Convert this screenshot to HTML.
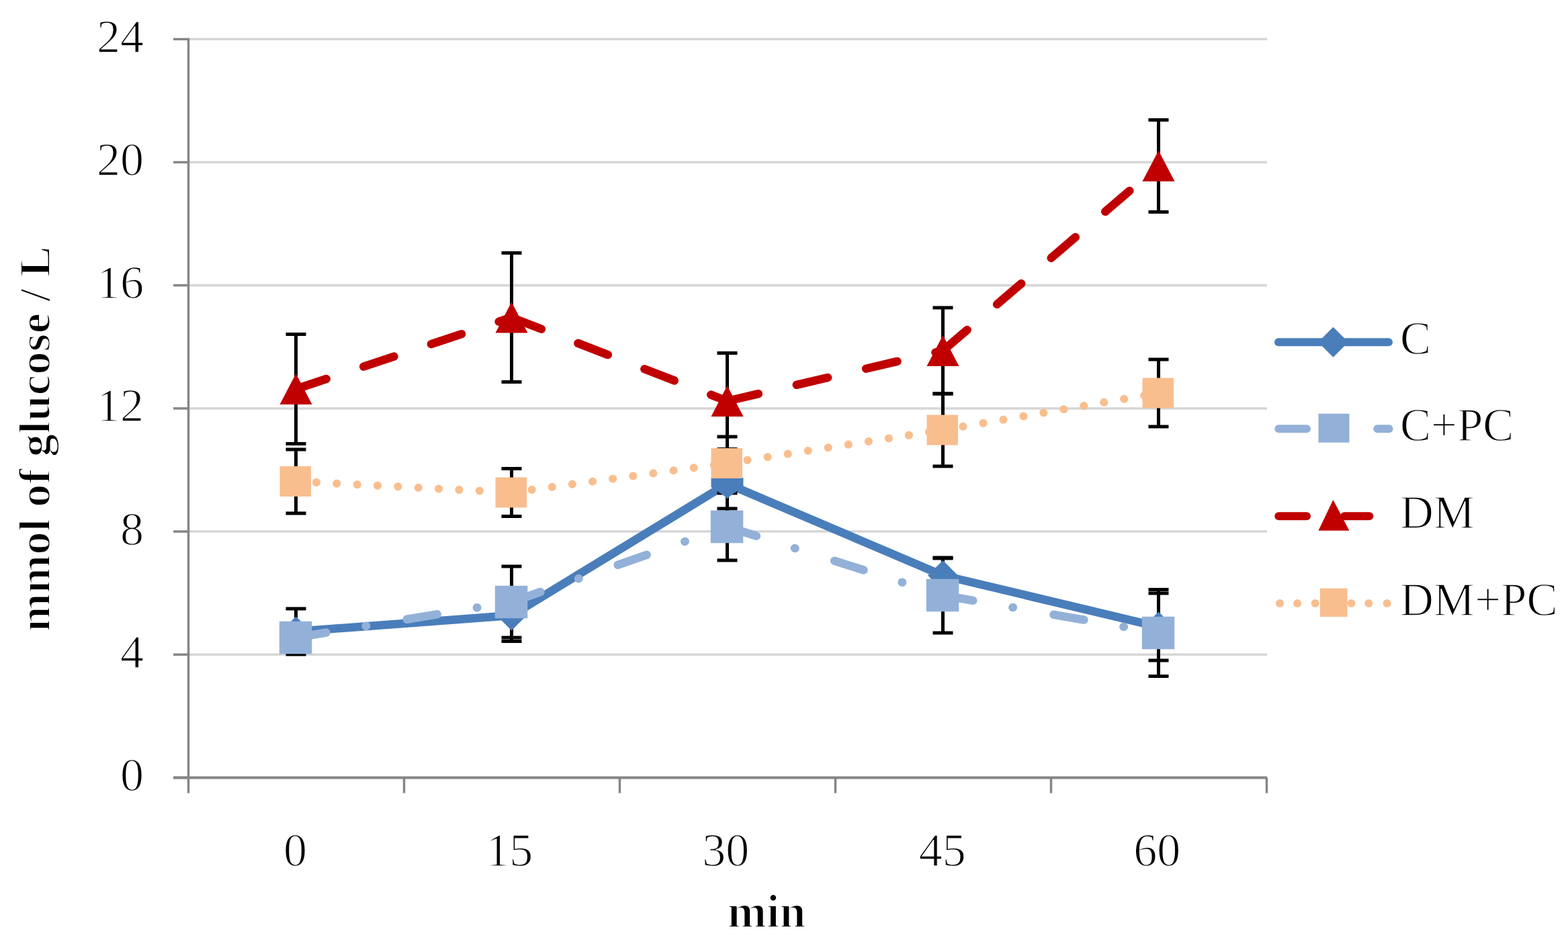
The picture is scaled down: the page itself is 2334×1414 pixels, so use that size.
<!DOCTYPE html>
<html><head><meta charset="utf-8"><style>html,body{margin:0;padding:0;background:#fff}svg{display:block}</style></head>
<body>
<svg width="2334" height="1414" viewBox="0 0 2334 1414">
<rect width="2334" height="1414" fill="#fff"/>
<line x1="280" y1="974.3" x2="1886" y2="974.3" stroke="#D6D6D6" stroke-width="3.5"/>
<line x1="280" y1="791.1" x2="1886" y2="791.1" stroke="#D6D6D6" stroke-width="3.5"/>
<line x1="280" y1="607.9000000000001" x2="1886" y2="607.9000000000001" stroke="#D6D6D6" stroke-width="3.5"/>
<line x1="280" y1="424.70000000000005" x2="1886" y2="424.70000000000005" stroke="#D6D6D6" stroke-width="3.5"/>
<line x1="280" y1="241.5" x2="1886" y2="241.5" stroke="#D6D6D6" stroke-width="3.5"/>
<line x1="280" y1="58.30000000000018" x2="1886" y2="58.30000000000018" stroke="#D6D6D6" stroke-width="3.5"/>
<line x1="280.5" y1="56.80000000000018" x2="280.5" y2="1157.5" stroke="#868686" stroke-width="3.5"/>
<line x1="258" y1="1157.5" x2="1886" y2="1157.5" stroke="#868686" stroke-width="4"/>
<line x1="258" y1="1157.5" x2="280.5" y2="1157.5" stroke="#868686" stroke-width="3.5"/>
<line x1="258" y1="974.3" x2="280.5" y2="974.3" stroke="#868686" stroke-width="3.5"/>
<line x1="258" y1="791.1" x2="280.5" y2="791.1" stroke="#868686" stroke-width="3.5"/>
<line x1="258" y1="607.9000000000001" x2="280.5" y2="607.9000000000001" stroke="#868686" stroke-width="3.5"/>
<line x1="258" y1="424.70000000000005" x2="280.5" y2="424.70000000000005" stroke="#868686" stroke-width="3.5"/>
<line x1="258" y1="241.5" x2="280.5" y2="241.5" stroke="#868686" stroke-width="3.5"/>
<line x1="258" y1="58.30000000000018" x2="280.5" y2="58.30000000000018" stroke="#868686" stroke-width="3.5"/>
<line x1="280.5" y1="1157.5" x2="280.5" y2="1180.5" stroke="#868686" stroke-width="3.5"/>
<line x1="601.5" y1="1157.5" x2="601.5" y2="1180.5" stroke="#868686" stroke-width="3.5"/>
<line x1="922.5" y1="1157.5" x2="922.5" y2="1180.5" stroke="#868686" stroke-width="3.5"/>
<line x1="1243.5" y1="1157.5" x2="1243.5" y2="1180.5" stroke="#868686" stroke-width="3.5"/>
<line x1="1564.5" y1="1157.5" x2="1564.5" y2="1180.5" stroke="#868686" stroke-width="3.5"/>
<line x1="1885.5" y1="1157.5" x2="1885.5" y2="1180.5" stroke="#868686" stroke-width="3.5"/>
<polyline points="440.5,940.0 761.5,916.0 1082.5,720.0 1403.5,856.5 1724.5,933.0" fill="none" stroke="#4A7EBB" stroke-width="12.5" stroke-linejoin="round" stroke-linecap="round"/>
<line x1="440.5" y1="949.0" x2="761.5" y2="896.0" stroke="#93B1D8" stroke-width="12.5" stroke-linecap="round" stroke-dasharray="45.5 60 0.5 61.5"/>
<line x1="761.5" y1="896.0" x2="1082.5" y2="784.0" stroke="#93B1D8" stroke-width="12.5" stroke-linecap="round" stroke-dasharray="45.5 60 0.5 61.5"/>
<line x1="1082.5" y1="784.0" x2="1403.5" y2="886.0" stroke="#93B1D8" stroke-width="12.5" stroke-linecap="round" stroke-dasharray="45.5 60 0.5 61.5"/>
<line x1="1403.5" y1="886.0" x2="1724.5" y2="942.0" stroke="#93B1D8" stroke-width="12.5" stroke-linecap="round" stroke-dasharray="45.5 60 0.5 61.5"/>
<line x1="440.5" y1="579.0" x2="761.5" y2="472.5" stroke="#C00000" stroke-width="12.5" stroke-linecap="round" stroke-dasharray="47.6 58.5"/>
<line x1="761.5" y1="472.5" x2="1082.5" y2="597.0" stroke="#C00000" stroke-width="12.5" stroke-linecap="round" stroke-dasharray="47.6 58.5"/>
<line x1="1082.5" y1="597.0" x2="1403.5" y2="522.0" stroke="#C00000" stroke-width="12.5" stroke-linecap="round" stroke-dasharray="47.6 58.5"/>
<line x1="1403.5" y1="522.0" x2="1724.5" y2="247.0" stroke="#C00000" stroke-width="12.5" stroke-linecap="round" stroke-dasharray="47.6 58.5"/>
<line x1="440.5" y1="716.5" x2="761.5" y2="733.0" stroke="#F9BE8E" stroke-width="12" stroke-linecap="round" stroke-dasharray="0.1 30.3"/>
<line x1="761.5" y1="733.0" x2="1082.5" y2="689.5" stroke="#F9BE8E" stroke-width="12" stroke-linecap="round" stroke-dasharray="0.1 30.3"/>
<line x1="1082.5" y1="689.5" x2="1403.5" y2="640.0" stroke="#F9BE8E" stroke-width="12" stroke-linecap="round" stroke-dasharray="0.1 30.3"/>
<line x1="1403.5" y1="640.0" x2="1724.5" y2="585.0" stroke="#F9BE8E" stroke-width="12" stroke-linecap="round" stroke-dasharray="0.1 30.3"/>
<path d="M440.5,906.0V974.0M425.5,906.0H455.5M425.5,974.0H455.5" stroke="#000" stroke-width="5" fill="none"/>
<path d="M761.5,877.5V954.5M746.5,877.5H776.5M746.5,954.5H776.5" stroke="#000" stroke-width="5" fill="none"/>
<path d="M1082.5,683.0V757.0M1067.5,683.0H1097.5M1067.5,757.0H1097.5" stroke="#000" stroke-width="5" fill="none"/>
<path d="M1403.5,831.0V882.0M1388.5,831.0H1418.5M1388.5,882.0H1418.5" stroke="#000" stroke-width="5" fill="none"/>
<path d="M1724.5,883.0V983.0M1709.5,883.0H1739.5M1709.5,983.0H1739.5" stroke="#000" stroke-width="5" fill="none"/>
<path d="M440.5,929.0V969.0M425.5,929.0H455.5M425.5,969.0H455.5" stroke="#000" stroke-width="5" fill="none"/>
<path d="M761.5,843.0V949.0M746.5,843.0H776.5M746.5,949.0H776.5" stroke="#000" stroke-width="5" fill="none"/>
<path d="M1082.5,734.0V834.0M1067.5,734.0H1097.5M1067.5,834.0H1097.5" stroke="#000" stroke-width="5" fill="none"/>
<path d="M1403.5,830.0V942.0M1388.5,830.0H1418.5M1388.5,942.0H1418.5" stroke="#000" stroke-width="5" fill="none"/>
<path d="M1724.5,877.5V1006.5M1709.5,877.5H1739.5M1709.5,1006.5H1739.5" stroke="#000" stroke-width="5" fill="none"/>
<path d="M440.5,497.5V660.5M425.5,497.5H455.5M425.5,660.5H455.5" stroke="#000" stroke-width="5" fill="none"/>
<path d="M761.5,376.5V568.5M746.5,376.5H776.5M746.5,568.5H776.5" stroke="#000" stroke-width="5" fill="none"/>
<path d="M1082.5,525.5V668.5M1067.5,525.5H1097.5M1067.5,668.5H1097.5" stroke="#000" stroke-width="5" fill="none"/>
<path d="M1403.5,458.0V586.0M1388.5,458.0H1418.5M1388.5,586.0H1418.5" stroke="#000" stroke-width="5" fill="none"/>
<path d="M1724.5,178.5V315.5M1709.5,178.5H1739.5M1709.5,315.5H1739.5" stroke="#000" stroke-width="5" fill="none"/>
<path d="M440.5,669.0V764.0M425.5,669.0H455.5M425.5,764.0H455.5" stroke="#000" stroke-width="5" fill="none"/>
<path d="M761.5,697.4V768.6M746.5,697.4H776.5M746.5,768.6H776.5" stroke="#000" stroke-width="5" fill="none"/>
<path d="M1082.5,650.0V729.0M1067.5,650.0H1097.5M1067.5,729.0H1097.5" stroke="#000" stroke-width="5" fill="none"/>
<path d="M1403.5,586.0V694.0M1388.5,586.0H1418.5M1388.5,694.0H1418.5" stroke="#000" stroke-width="5" fill="none"/>
<path d="M1724.5,535.0V635.0M1709.5,535.0H1739.5M1709.5,635.0H1739.5" stroke="#000" stroke-width="5" fill="none"/>
<path d="M440.5,917.5L463.0,940L440.5,962.5L418.0,940Z" fill="#4A7EBB"/>
<path d="M761.5,893.5L784.0,916L761.5,938.5L739.0,916Z" fill="#4A7EBB"/>
<path d="M1082.5,697.5L1105.0,720L1082.5,742.5L1060.0,720Z" fill="#4A7EBB"/>
<path d="M1403.5,834.0L1426.0,856.5L1403.5,879.0L1381.0,856.5Z" fill="#4A7EBB"/>
<path d="M1724.5,910.5L1747.0,933L1724.5,955.5L1702.0,933Z" fill="#4A7EBB"/>
<rect x="415.8" y="924.8" width="48.5" height="48.5" fill="#93B1D8"/>
<rect x="736.8" y="871.8" width="48.5" height="48.5" fill="#93B1D8"/>
<rect x="1057.8" y="759.8" width="48.5" height="48.5" fill="#93B1D8"/>
<rect x="1378.8" y="861.8" width="48.5" height="48.5" fill="#93B1D8"/>
<rect x="1699.8" y="917.8" width="48.5" height="48.5" fill="#93B1D8"/>
<path d="M440.5,556.0L464.5,602.0L416.5,602.0Z" fill="#C00000"/>
<path d="M761.5,449.5L785.5,495.5L737.5,495.5Z" fill="#C00000"/>
<path d="M1082.5,574.0L1106.5,620.0L1058.5,620.0Z" fill="#C00000"/>
<path d="M1403.5,499.0L1427.5,545.0L1379.5,545.0Z" fill="#C00000"/>
<path d="M1724.5,224.0L1748.5,270.0L1700.5,270.0Z" fill="#C00000"/>
<path d="M1058.5,711H1106.5V725L1082.5,741L1058.5,725Z" fill="#4A7EBB"/>
<rect x="416.5" y="694.0" width="46.5" height="45" fill="#F9BE8E"/>
<rect x="737.5" y="710.5" width="46.5" height="45" fill="#F9BE8E"/>
<rect x="1058.5" y="667.0" width="46.5" height="45" fill="#F9BE8E"/>
<rect x="1379.5" y="617.5" width="46.5" height="45" fill="#F9BE8E"/>
<rect x="1700.5" y="562.5" width="46.5" height="45" fill="#F9BE8E"/>
<text x="214" y="1177.0" font-family="Liberation Serif, serif" stroke="#fff" stroke-width="1.4" font-size="70" text-anchor="end" fill="#000">0</text>
<text x="214" y="993.8" font-family="Liberation Serif, serif" stroke="#fff" stroke-width="1.4" font-size="70" text-anchor="end" fill="#000">4</text>
<text x="214" y="810.6" font-family="Liberation Serif, serif" stroke="#fff" stroke-width="1.4" font-size="70" text-anchor="end" fill="#000">8</text>
<text x="214" y="627.4" font-family="Liberation Serif, serif" stroke="#fff" stroke-width="1.4" font-size="70" text-anchor="end" fill="#000">12</text>
<text x="214" y="444.2" font-family="Liberation Serif, serif" stroke="#fff" stroke-width="1.4" font-size="70" text-anchor="end" fill="#000">16</text>
<text x="214" y="261.0" font-family="Liberation Serif, serif" stroke="#fff" stroke-width="1.4" font-size="70" text-anchor="end" fill="#000">20</text>
<text x="214" y="77.8" font-family="Liberation Serif, serif" stroke="#fff" stroke-width="1.4" font-size="70" text-anchor="end" fill="#000">24</text>
<text x="439.5" y="1289" font-family="Liberation Serif, serif" stroke="#fff" stroke-width="1.4" font-size="70" text-anchor="middle" fill="#000">0</text>
<text x="758.2" y="1289" font-family="Liberation Serif, serif" stroke="#fff" stroke-width="1.4" font-size="70" text-anchor="middle" fill="#000">15</text>
<text x="1080.3" y="1289" font-family="Liberation Serif, serif" stroke="#fff" stroke-width="1.4" font-size="70" text-anchor="middle" fill="#000">30</text>
<text x="1402.8" y="1289" font-family="Liberation Serif, serif" stroke="#fff" stroke-width="1.4" font-size="70" text-anchor="middle" fill="#000">45</text>
<text x="1722.3" y="1289" font-family="Liberation Serif, serif" stroke="#fff" stroke-width="1.4" font-size="70" text-anchor="middle" fill="#000">60</text>
<text x="1141" y="1379.5" font-family="Liberation Serif, serif" stroke="#fff" stroke-width="2" font-size="70" font-weight="bold" text-anchor="middle" fill="#000">min</text>
<text transform="translate(74,653.5) rotate(-90) scale(1.06,1)" font-family="Liberation Serif, serif" stroke="#fff" stroke-width="2" font-size="65" font-weight="bold" text-anchor="middle" fill="#000">mmol of glucose / L</text>
<line x1="1903" y1="509.3" x2="2067" y2="509.3" stroke="#4A7EBB" stroke-width="12" stroke-linecap="round"/>
<path d="M1984.5,486.8L2007.0,509.3L1984.5,531.8L1962.0,509.3Z" fill="#4A7EBB"/>
<line x1="1903.3" y1="638.3" x2="1945" y2="638.3" stroke="#93B1D8" stroke-width="12" stroke-linecap="round"/>
<line x1="2050.3" y1="638.3" x2="2067.6" y2="638.3" stroke="#93B1D8" stroke-width="12" stroke-linecap="round"/>
<rect x="1962.5" y="615.7" width="46" height="43" fill="#93B1D8"/>
<line x1="1903.3" y1="768.3" x2="1945" y2="768.3" stroke="#C00000" stroke-width="12" stroke-linecap="round"/>
<line x1="2001" y1="768.3" x2="2038.3" y2="768.3" stroke="#C00000" stroke-width="12" stroke-linecap="round"/>
<path d="M1984.4,744L2008.4,789.7L1962.5,789.7Z" fill="#C00000"/>
<circle cx="1905" cy="898.1" r="6" fill="#F9BE8E"/>
<circle cx="1931.1" cy="898.1" r="6" fill="#F9BE8E"/>
<circle cx="1957.6" cy="898.1" r="6" fill="#F9BE8E"/>
<circle cx="2011.3" cy="898.1" r="6" fill="#F9BE8E"/>
<circle cx="2037.3" cy="898.1" r="6" fill="#F9BE8E"/>
<circle cx="2064.6" cy="898.1" r="6" fill="#F9BE8E"/>
<rect x="1964.9" y="875.7" width="40.7" height="42.3" fill="#F9BE8E"/>
<text x="2084" y="527.3" font-family="Liberation Serif, serif" stroke="#fff" stroke-width="1.4" font-size="69" fill="#000">C</text>
<text x="2084" y="656.4" font-family="Liberation Serif, serif" stroke="#fff" stroke-width="1.4" font-size="69" fill="#000">C+PC</text>
<text x="2084" y="786.3" font-family="Liberation Serif, serif" stroke="#fff" stroke-width="1.4" font-size="69" fill="#000">DM</text>
<text x="2084" y="916.3" font-family="Liberation Serif, serif" stroke="#fff" stroke-width="1.4" font-size="69" fill="#000">DM+PC</text>
</svg>
</body></html>
